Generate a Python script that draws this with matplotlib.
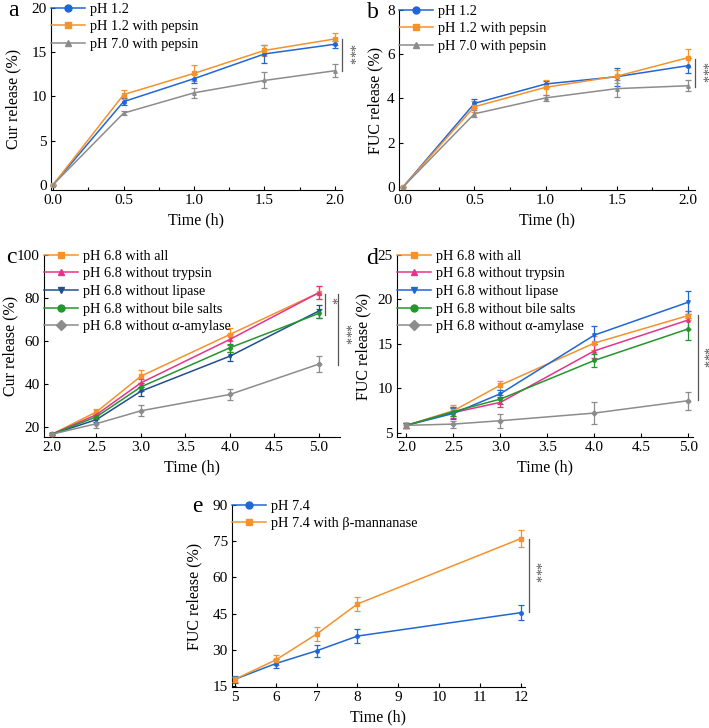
import matplotlib
matplotlib.use("Agg")
import matplotlib.pyplot as plt
from matplotlib.lines import Line2D
from matplotlib.ticker import MultipleLocator

plt.rcParams['font.family'] = ['Liberation Serif', 'DejaVu Serif']

#DATA
t_ab = [0.0, 0.5, 1.0, 1.5, 2.0]
labels_ab = ["pH 1.2", "pH 1.2 with pepsin", "pH 7.0 with pepsin"]

cur_a = [[0, 9.4, 12.0, 14.8, 15.9],
         [0, 10.2, 12.6, 15.2, 16.5],
         [0, 8.1, 10.4, 11.8, 12.9]]
cur_a_err = [[0, 0.4, 0.5, 1.0, 0.4],
             [0, 0.55, 0.9, 0.6, 0.65],
             [0, 0.25, 0.6, 0.9, 0.75]]

fuc_b = [[0, 3.77, 4.65, 4.98, 5.48],
         [0, 3.62, 4.5, 5.0, 5.84],
         [0, 3.3, 4.02, 4.44, 4.57]]
fuc_b_err = [[0, 0.2, 0.15, 0.4, 0.35],
             [0, 0.25, 0.35, 0.3, 0.4],
             [0, 0.15, 0.15, 0.4, 0.25]]

t_cd = [2.0, 2.5, 3.0, 4.0, 5.0]
labels_cd = ["pH 6.8 with all", "pH 6.8 without trypsin", "pH 6.8 without lipase",
             "pH 6.8 without bile salts", "pH 6.8 without \u03b1-amylase"]

cur_c = [[16.6, 27.0, 43.6, 63.0, 82.4],
         [16.6, 25.7, 40.5, 60.7, 82.4],
         [16.6, 23.4, 36.6, 52.9, 73.9],
         [16.6, 24.7, 38.6, 56.8, 72.8],
         [16.6, 21.5, 27.5, 35.1, 49.2]]
cur_c_err = [[0.5, 1.2, 3.0, 3.0, 3.0],
             [0.5, 1.0, 2.0, 2.5, 3.0],
             [0.5, 1.0, 2.0, 2.0, 3.0],
             [0.5, 1.0, 2.0, 2.0, 2.0],
             [0.5, 2.0, 2.5, 2.5, 3.8]]

fuc_d = [[5.86, 7.5, 10.38, 15.1, 18.2],
         [5.86, 7.3, 8.44, 14.23, 17.7],
         [5.86, 7.2, 9.41, 16.0, 19.7],
         [5.86, 7.4, 8.81, 13.15, 16.7],
         [5.86, 6.0, 6.38, 7.24, 8.63]]
fuc_d_err = [[0.3, 0.6, 0.5, 0.8, 0.5],
             [0.3, 0.6, 0.5, 0.8, 1.0],
             [0.3, 0.6, 0.4, 1.0, 1.3],
             [0.3, 0.5, 0.5, 0.7, 1.2],
             [0.3, 0.4, 0.8, 1.2, 1.0]]

t_e = [5, 6, 7, 8, 12]
labels_e = ["pH 7.4", "pH 7.4 with \u03b2-mannanase"]
fuc_e = [[17.8, 24.3, 29.6, 35.7, 45.4],
         [17.8, 25.8, 36.5, 49.0, 76.1]]
fuc_e_err = [[1.5, 2.0, 2.5, 3.0, 3.0],
             [1.0, 2.0, 3.0, 3.0, 3.5]]

#STYLES
BLUE = "#1f66d6"
ORANGE = "#f5922b"
GRAY = "#8c8c8c"
MAGENTA = "#e5338c"
NAVY = "#1f4f8f"
GREEN = "#23962d"

W, H = 709, 728


def add_ax(fig, left, right, top, bottom):
    return fig.add_axes([left / W, 1 - bottom / H, (right - left) / W, (bottom - top) / H])


def draw_panel(ax, t, ys, errs, labels, colors, markers, xlim, ylim, yticks, xmajor,
               xminor=None, ylabel="", ylabel_x=-0.12, letter="", letter_xy=(0, 0)):
    for y, e, c, m in zip(ys, errs, colors, markers):
        ax.errorbar(t, y, yerr=e, color=c, lw=1.1, elinewidth=0.9, capsize=2,
                    capthick=0.9, marker=m, ms=2.5, clip_on=False, zorder=3)
    ax.set_xlim(*xlim)
    ax.set_ylim(*ylim)
    ax.set_yticks(yticks)
    ax.xaxis.set_major_locator(MultipleLocator(xmajor))
    if xminor:
        ax.xaxis.set_minor_locator(MultipleLocator(xminor))
    ax.spines['top'].set_visible(False)
    ax.spines['right'].set_visible(False)
    ax.tick_params(direction='in', labelsize=11, length=3, width=0.8, pad=3)
    ax.tick_params(which='minor', direction='in', length=2, width=0.8)
    ax.set_xlabel("Time (h)", fontsize=11.5, labelpad=4)
    ax.set_ylabel(ylabel, fontsize=11.5)
    ax.yaxis.set_label_coords(ylabel_x, 0.5)
    handles = [Line2D([], [], color=c, marker=m, ms=5, lw=1.1) for c, m in zip(colors, markers)]
    ax.legend(handles, labels, loc='upper left', bbox_to_anchor=(0.0, 1.03),
              frameon=False, fontsize=10.3, borderpad=0, borderaxespad=0,
              handlelength=2.4, handletextpad=0.3, labelspacing=0.33)
    ax.text(letter_xy[0] / W, 1 - letter_xy[1] / H, letter, transform=ax.figure.transFigure,
            fontsize=17, va='center', ha='left')


def sig(ax, x, y0, y1, stars, xs, ys):
    tr = ax.get_yaxis_transform()
    ax.plot([x, x], [y0, y1], color='#555555', lw=0.9, transform=tr, clip_on=False)
    ax.text(xs, ys, stars, transform=tr, rotation=270, fontsize=10, color='#555555',
            ha='center', va='center')


fig = plt.figure(figsize=(W / 100, H / 100), dpi=100)

ax_a = add_ax(fig, 51, 342, 8, 190)
draw_panel(ax_a, t_ab, cur_a, cur_a_err, labels_ab, [BLUE, ORANGE, GRAY], ['o', 's', '^'],
           (-0.015, 2.05), (-0.6, 20), [0, 5, 10, 15, 20], 0.5, 0.25,
           "Cur release (%)", -0.103, "a", (8, 11))
sig(ax_a, 1.0, 16.5, 12.9, "***", 1.022, 14.7)

ax_b = add_ax(fig, 399, 695, 10, 190)
draw_panel(ax_b, t_ab, fuc_b, fuc_b_err, labels_ab, [BLUE, ORANGE, GRAY], ['o', 's', '^'],
           (-0.03, 2.05), (-0.15, 8), [0, 2, 4, 6, 8], 0.5, 0.25,
           "FUC release (%)", -0.054, "b", (367, 13))
sig(ax_b, 1.0, 5.8, 4.5, "***", 1.022, 5.15)

ax_c = add_ax(fig, 44, 340, 255, 437)
draw_panel(ax_c, t_cd, cur_c, cur_c_err, labels_cd, [ORANGE, MAGENTA, NAVY, GREEN, GRAY],
           ['s', '^', 'v', 'o', 'D'], (1.91, 5.24), (15.3, 100), [20, 40, 60, 80, 100], 0.5,
           None, "Cur release (%)", -0.088, "c", (6, 257))
sig(ax_c, 0.95, 82, 72, "*", 0.968, 79)
sig(ax_c, 0.993, 82, 49, "***", 1.013, 63)

ax_d = add_ax(fig, 397, 693, 255, 437)
draw_panel(ax_d, t_cd, fuc_d, fuc_d_err, labels_cd, [ORANGE, MAGENTA, BLUE, GREEN, GRAY],
           ['s', '^', 'v', 'o', 'D'], (1.90, 5.05), (4.55, 25), [5, 10, 15, 20, 25], 0.5,
           None, "FUC release (%)", -0.088, "d", (366, 258))
sig(ax_d, 1.017, 18.3, 8.7, "***", 1.033, 13.5)

ax_e = add_ax(fig, 232, 525, 505, 687)
draw_panel(ax_e, t_e, fuc_e, fuc_e_err, labels_e, [BLUE, ORANGE], ['o', 's'],
           (4.93, 12.1), (14.6, 90), [15, 30, 45, 60, 75, 90], 1,
           None, "FUC release (%)", -0.102, "e", (192, 507))
sig(ax_e, 1.014, 76, 45.5, "***", 1.032, 62)

fig.savefig("out.png", dpi=100)
